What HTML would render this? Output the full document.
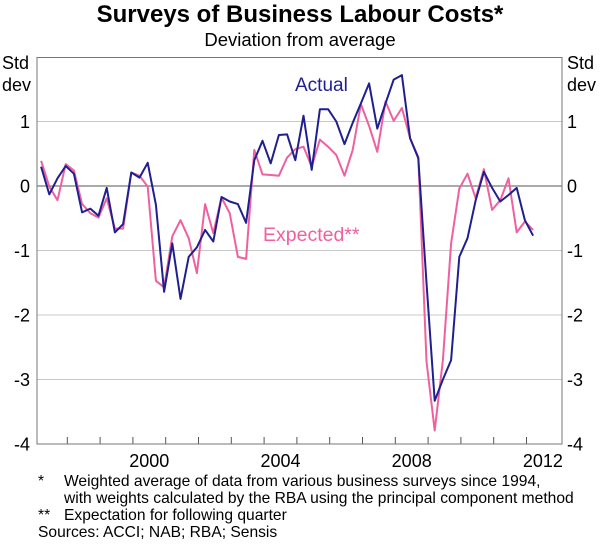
<!DOCTYPE html>
<html><head><meta charset="utf-8"><style>
body{margin:0;background:#fff;width:600px;height:544px;overflow:hidden;font-family:"Liberation Sans",Arial,sans-serif;}
svg text{font-family:"Liberation Sans",Arial,sans-serif;}
</style></head><body>
<svg id="chart" width="600" height="544" viewBox="0 0 600 544" xmlns="http://www.w3.org/2000/svg">
<text x="300" y="22" text-anchor="middle" font-size="24" font-weight="bold" fill="#000">Surveys of Business Labour Costs*</text>
<text x="300" y="46" text-anchor="middle" font-size="18.5" fill="#000">Deviation from average</text>
<text x="2" y="69" font-size="18">Std</text>
<text x="2" y="91" font-size="18">dev</text>
<text x="567" y="69" font-size="18">Std</text>
<text x="567" y="91" font-size="18">dev</text>
<g id="grid"></g>
<g id="ticks"></g>
<g id="series"></g>
<rect x="37" y="57.5" width="525" height="386.5" fill="none" stroke="#777" stroke-width="1"/>
<text x="295" y="91" font-size="19" fill="#1f1f8f">Actual</text>
<text x="263" y="241" font-size="19.5" fill="#f0609e">Expected**</text>
<g font-size="15.6" fill="#000">
<text x="38" y="486">*</text>
<text x="64" y="486">Weighted average of data from various business surveys since 1994,</text>
<text x="64" y="503">with weights calculated by the RBA using the principal component method</text>
<text x="38" y="520">**</text>
<text x="64" y="520">Expectation for following quarter</text>
<text x="38" y="537">Sources: ACCI; NAB; RBA; Sensis</text>
</g>
</svg>
<script>
const yTicks = [1, 0, -1, -2, -3, -4];
const yTickLabels = ["1", "0", "-1", "-2", "-3", "-4"];
const xYears = [1997,1998,1999,2000,2001,2002,2003,2004,2005,2006,2007,2008,2009,2010,2011,2012];
const xLabelYears = [2000, 2004, 2008, 2012];
const startTime = 1997.2;
const actual = [0.30,-0.13,0.12,0.31,0.19,-0.41,-0.35,-0.46,-0.03,-0.72,-0.59,0.21,0.13,0.36,-0.29,-1.64,-0.89,-1.75,-1.10,-0.95,-0.68,-0.86,-0.17,-0.24,-0.28,-0.57,0.40,0.70,0.35,0.79,0.80,0.40,1.09,0.25,1.19,1.19,1.00,0.65,0.98,1.28,1.59,0.89,1.28,1.65,1.72,0.74,0.43,-1.5,-3.33,-3.0,-2.7,-1.10,-0.81,-0.22,0.22,-0.03,-0.24,-0.14,-0.03,-0.53,-0.77];
const expected = [0.39,-0.01,-0.22,0.34,0.24,-0.28,-0.42,-0.49,-0.19,-0.66,-0.66,0.21,0.16,-0.01,-1.47,-1.57,-0.78,-0.53,-0.81,-1.35,-0.28,-0.73,-0.18,-0.42,-1.10,-1.13,0.56,0.18,0.17,0.16,0.44,0.57,0.61,0.30,0.72,0.61,0.48,0.16,0.56,1.27,0.93,0.53,1.31,1.01,1.21,0.74,0.45,-2.72,-3.79,-2.70,-0.89,-0.04,0.19,-0.19,0.26,-0.37,-0.22,0.12,-0.72,-0.55,-0.68];

const NS = "http://www.w3.org/2000/svg";
function yScale(v){ return 186 - v*64.5; }
function xScale(t){ return 34.5 + (t-1997)*32.8; }
function mk(tag, attrs, parent){ const e=document.createElementNS(NS,tag); for(const k in attrs) e.setAttribute(k,attrs[k]); parent.appendChild(e); return e; }
const grid=document.getElementById('grid'), ticks=document.getElementById('ticks'), series=document.getElementById('series');
yTicks.forEach((v,i)=>{
  const y=yScale(v);
  if(v>-4){
    const l=mk('line',{x1:37,x2:562,y1:y,y2:y,stroke:v===0?'#555':'#c8c8c8','stroke-width':1},grid);
    
    
  }
  const t1=mk('text',{x:30,y:y+6.5,'text-anchor':'end','font-size':18},ticks);
  t1.textContent=yTickLabels[i];
  
  
  const t2=mk('text',{x:567,y:y+6.5,'font-size':18},ticks);
  t2.textContent=yTickLabels[i];
  
  
});
xYears.forEach(yr=>{
  const x=xScale(yr);
  if(x>37){
    const tk=mk('line',{x1:x,x2:x,y1:444,y2:437,stroke:'#555','stroke-width':1},ticks);
    
    
  }
});
xLabelYears.forEach(yr=>{
  const t=mk('text',{x:xScale(yr+0.5),y:467,'text-anchor':'middle','font-size':18},ticks);
  t.textContent=String(yr);
  
  
});
function line(data,color,name){
  const pts=data.map((v,i)=>xScale(startTime+i*0.25).toFixed(1)+','+yScale(v).toFixed(1)).join(' ');
  const p=mk('polyline',{points:pts,fill:'none',stroke:color,'stroke-width':2,'stroke-linejoin':'round'},series);
  
  
}
line(expected,'#f0609e','expected-line');
line(actual,'#1f1f8f','actual-line');
</script>
</body></html>
